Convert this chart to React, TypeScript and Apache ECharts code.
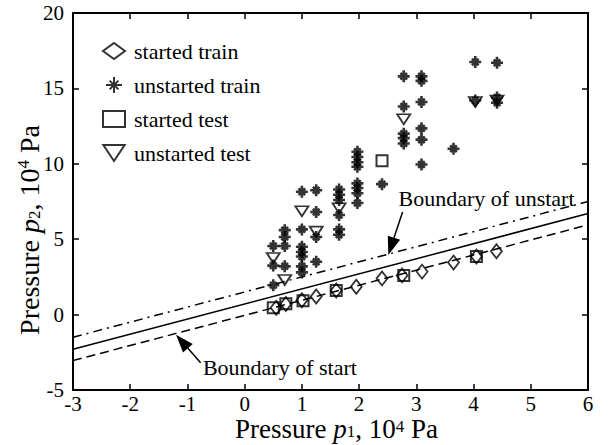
import React, { useEffect, useRef } from "react";
import * as echarts from "echarts";

const FONT = "'Liberation Serif', 'Times New Roman', serif";

// Axis ranges / ticks
const xMin = -3, xMax = 6, xStep = 1;
const yMin = -5, yMax = 20, yStep = 5;

// Boundary lines (p2 values at p1 = -3 and p1 = 6)
const boundaryP1 = [-3, 6];
const boundarySolid = [-2.3, 6.7];
const boundaryUnstart = [-1.5, 7.5];
const boundaryStart = [-3.05, 5.95];

// Data: [p1, p2]
const startedTrain: [number, number][] = [
  [0.55, 0.45], [0.72, 0.7], [1.0, 0.95], [1.25, 1.2], [1.6, 1.6], [1.95, 1.85],
  [2.4, 2.4], [2.75, 2.6], [3.1, 2.85], [3.65, 3.45], [4.05, 3.85], [4.4, 4.2],
];
const unstartedTrain: [number, number][] = [
  [0.5, 4.55], [0.5, 3.25], [0.5, 1.95],
  [0.7, 5.6], [0.7, 5.15], [0.7, 4.55], [0.7, 3.2],
  [1.0, 8.15], [1.0, 5.65], [1.0, 4.5], [1.0, 4.15], [1.0, 3.85], [1.0, 3.2], [1.0, 2.8],
  [1.25, 8.25], [1.25, 6.8], [1.25, 5.15], [1.25, 3.5],
  [1.65, 8.3], [1.65, 7.95], [1.65, 7.6], [1.65, 6.6], [1.65, 5.65], [1.65, 5.3],
  [1.97, 10.8], [1.97, 10.45], [1.97, 10.1], [1.97, 9.8], [1.97, 8.7], [1.97, 8.4], [1.97, 8.05], [1.97, 7.4],
  [2.4, 8.65],
  [2.78, 15.8], [2.78, 13.8], [2.78, 12.0], [2.78, 11.7], [2.78, 11.35],
  [3.09, 15.8], [3.09, 15.5], [3.09, 14.1], [3.09, 12.35], [3.09, 11.6], [3.09, 9.95],
  [3.65, 11.0],
  [4.03, 16.75], [4.41, 16.7], [4.03, 14.2], [4.41, 14.4], [4.41, 14.05],
];
const startedTest: [number, number][] = [
  [0.5, 0.45], [0.72, 0.72], [1.02, 0.92], [1.6, 1.6], [2.78, 2.6], [4.05, 3.85], [2.4, 10.2],
];
const unstartedTest: [number, number][] = [
  [0.5, 3.75], [0.7, 2.3], [1.0, 6.85], [1.25, 5.5], [1.65, 7.05], [2.78, 12.95], [4.03, 14.1], [4.41, 14.2],
];

// Annotations (data coordinates)
const annotations = [
  { text: "Boundary of unstart", textAt: [2.69, 7.73], from: [2.76, 6.81], to: [2.51, 3.96] },
  { text: "Boundary of start", textAt: [-0.73, -3.52], from: [-0.77, -3.19], to: [-1.2, -1.34] },
];

const xName = "{n|Pressure }{i|p}{sub|1}{n|, 10}{sup|4}{n| Pa}";
const yName = "{n|Pressure }{i|p}{sub|2}{n|, 10}{sup|4}{n| Pa}";

const STAR = "path://M0,-10L0,10M-10,0L10,0M-5.5,-5.5L5.5,5.5M-5.5,5.5L5.5,-5.5";
const TRI_DOWN = "path://M0,0L12,0L6,9Z";

function rich(size: number, lh: number) {
  const s = Math.round(size * 0.62);
  return {
    n: { fontFamily: FONT, fontSize: size, color: "#000", lineHeight: lh },
    i: { fontFamily: FONT, fontSize: size, color: "#000", fontStyle: "italic", lineHeight: lh },
    sub: { fontFamily: FONT, fontSize: s, color: "#000", verticalAlign: "bottom", lineHeight: 10 },
    sup: { fontFamily: FONT, fontSize: s, color: "#000", verticalAlign: "top", lineHeight: 10 },
  };
}

function axisCommon() {
  return {
    axisLine: { show: true, onZero: false, lineStyle: { color: "#000", width: 2 } },
    axisTick: { show: true, inside: true, length: 6, lineStyle: { color: "#000", width: 1.5 } },
    splitLine: { show: false },
  };
}

export default function App() {
  const ref = useRef<HTMLDivElement>(null);
  useEffect(() => {
    if (!ref.current) return;
    const chart = echarts.init(ref.current, undefined, { renderer: "svg" });
    const hollow = { color: "rgba(0,0,0,0)", borderColor: "#000", borderWidth: 1.8 };
    const lineSeries = (data: number[], type: any) => ({
      type: "line",
      data: boundaryP1.map((x, i) => [x, data[i]]),
      symbol: "none",
      silent: true,
      lineStyle: { color: "#000", width: 1.5, type },
      z: 1,
    });
    chart.setOption({
      animation: false,
      backgroundColor: "#fff",
      grid: { left: 73, right: 27, top: 13, bottom: 55, containLabel: false, outerBoundsMode: "none" },
      xAxis: [
        {
          type: "value", min: xMin, max: xMax, interval: xStep, position: "bottom",
          ...axisCommon(),
          axisLabel: { color: "#000", fontFamily: FONT, fontSize: 21, margin: 3, lineHeight: 21 },
          name: xName,
          nameLocation: "middle", nameGap: 28, nameMoveOverlap: false,
          nameTextStyle: { fontFamily: FONT, fontSize: 27, color: "#000", rich: rich(27, 22), padding: [0, 0, 0, 12] },
        },
        {
          type: "value", min: xMin, max: xMax, interval: xStep, position: "top",
          ...axisCommon(), axisLabel: { show: false },
        },
      ],
      yAxis: [
        {
          type: "value", min: yMin, max: yMax, interval: yStep, position: "left",
          ...axisCommon(),
          axisLabel: { color: "#000", fontFamily: FONT, fontSize: 21, margin: 9 },
        },
        {
          type: "value", min: yMin, max: yMax, interval: yStep, position: "right",
          ...axisCommon(), axisLabel: { show: false },
        },
      ],
      legend: {
        orient: "vertical", left: 102, top: 40, padding: 0, itemWidth: 22, itemHeight: 16, itemGap: 12,
        textStyle: { fontFamily: FONT, fontSize: 22, color: "#000", padding: [0, 0, 0, 4] },
        data: ["started train", "unstarted train", "started test", "unstarted test"],
      },
      series: [
        lineSeries(boundaryUnstart, [9, 5, 2, 5]),
        lineSeries(boundarySolid, "solid"),
        lineSeries(boundaryStart, [9, 5]),
        {
          name: "started train", type: "scatter", data: startedTrain,
          symbol: "diamond", symbolSize: [11, 14], itemStyle: hollow, z: 3,
        },
        {
          name: "unstarted train", type: "scatter", data: unstartedTrain,
          symbol: STAR, symbolSize: 12,
          itemStyle: { color: "#000", borderColor: "#000", borderWidth: 2.6 }, z: 3,
        },
        {
          name: "started test", type: "scatter", data: startedTest,
          symbol: "rect", symbolSize: 11, itemStyle: { ...hollow, borderWidth: 2 }, z: 3,
        },
        {
          name: "unstarted test", type: "scatter", data: unstartedTest,
          symbol: TRI_DOWN, symbolSize: [13, 10], itemStyle: hollow, z: 3,
        },
      ],
    });

    const graphics: any[] = [
      {
        type: "text", x: 29, y: 230, rotation: Math.PI / 2, z: 10,
        style: { text: yName, rich: rich(28, 28), fontFamily: FONT, fontSize: 28, fill: "#000", align: "center", verticalAlign: "middle" },
      },
    ];
    annotations.forEach((a) => {
      const t = chart.convertToPixel({ xAxisIndex: 0, yAxisIndex: 0 }, a.textAt) as number[];
      const f = chart.convertToPixel({ xAxisIndex: 0, yAxisIndex: 0 }, a.from) as number[];
      const p = chart.convertToPixel({ xAxisIndex: 0, yAxisIndex: 0 }, a.to) as number[];
      const dx = p[0] - f[0], dy = p[1] - f[1];
      const len = Math.sqrt(dx * dx + dy * dy);
      const ux = dx / len, uy = dy / len;
      const head = 18, half = 6.5;
      const bx = p[0] - ux * head, by = p[1] - uy * head;
      graphics.push({
        type: "text", x: t[0], y: t[1], z: 10,
        style: { text: a.text, fontFamily: FONT, fontSize: 22, fill: "#000", verticalAlign: "middle", align: "left" },
      });
      graphics.push({
        type: "line", z: 10,
        shape: { x1: f[0], y1: f[1], x2: bx, y2: by },
        style: { stroke: "#000", lineWidth: 1.5 },
      });
      graphics.push({
        type: "polygon", z: 10,
        shape: { points: [[p[0], p[1]], [bx - uy * half, by + ux * half], [bx + uy * half, by - ux * half]] },
        style: { fill: "#000" },
      });
    });
    chart.setOption({ graphic: graphics });

    return () => chart.dispose();
  }, []);
  return <div ref={ref} style={{ position: "absolute", left: 0, top: 0, width: 615, height: 445 }} />;
}
